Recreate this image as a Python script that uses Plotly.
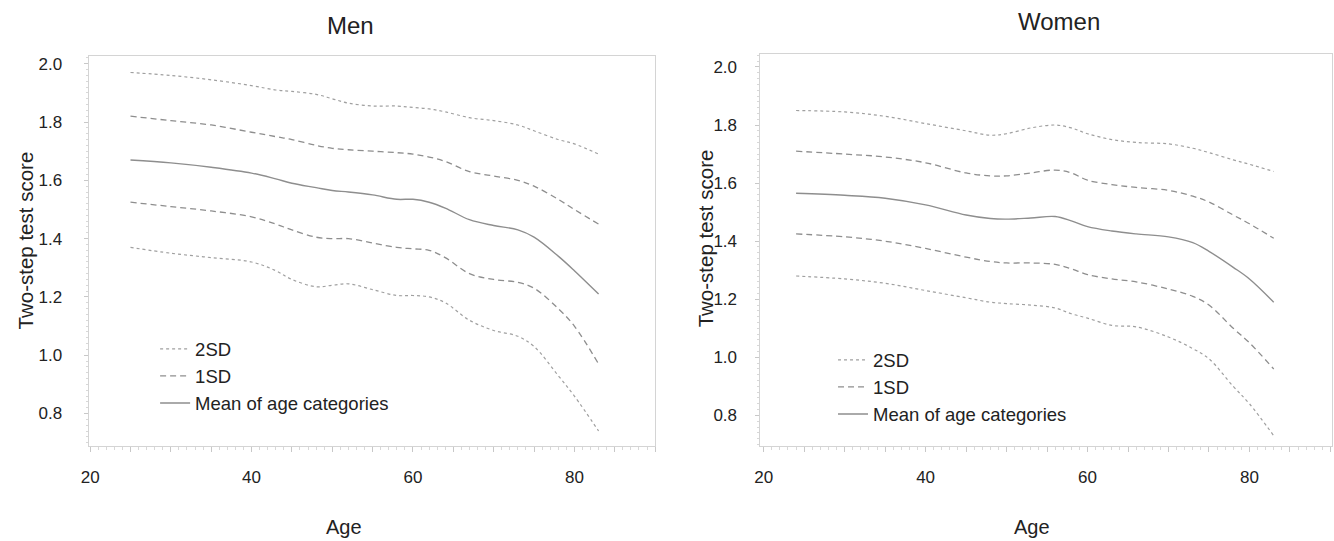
import plotly.graph_objects as go

# ---------------- data ----------------
men_age = [25, 30, 35, 40, 43, 45, 48, 50, 52, 55, 58, 60, 62, 64, 67, 70, 73, 75, 78, 80, 83]
men_mean = [1.67, 1.66, 1.645, 1.625, 1.605, 1.59, 1.575, 1.565, 1.56, 1.55, 1.535, 1.535, 1.525, 1.505,
            1.465, 1.445, 1.43, 1.405, 1.34, 1.29, 1.21]
men_p1 = [1.82, 1.805, 1.79, 1.765, 1.75, 1.74, 1.72, 1.71, 1.705, 1.70, 1.695, 1.69, 1.68, 1.665,
          1.63, 1.615, 1.60, 1.58, 1.535, 1.50, 1.45]
men_p2 = [1.97, 1.96, 1.945, 1.925, 1.91, 1.905, 1.895, 1.88, 1.865, 1.855, 1.855, 1.85, 1.845, 1.835,
          1.815, 1.805, 1.79, 1.77, 1.74, 1.725, 1.69]
men_m1 = [1.525, 1.51, 1.495, 1.475, 1.45, 1.43, 1.405, 1.40, 1.40, 1.385, 1.37, 1.365, 1.36, 1.335,
          1.28, 1.26, 1.25, 1.23, 1.16, 1.10, 0.97]
men_m2 = [1.37, 1.35, 1.335, 1.32, 1.29, 1.26, 1.235, 1.24, 1.245, 1.225, 1.205, 1.205, 1.20, 1.18,
          1.12, 1.085, 1.065, 1.03, 0.93, 0.86, 0.74]

women_age = [24, 30, 35, 40, 45, 48, 50, 53, 56, 58, 60, 63, 66, 70, 73, 75, 78, 80, 83]
women_mean = [1.565, 1.558, 1.548, 1.525, 1.49, 1.478, 1.476, 1.48, 1.485, 1.47, 1.45, 1.435, 1.425,
              1.415, 1.395, 1.365, 1.31, 1.27, 1.19]
women_p1 = [1.71, 1.70, 1.69, 1.67, 1.635, 1.625, 1.625, 1.635, 1.645, 1.635, 1.61, 1.595, 1.585,
            1.575, 1.555, 1.535, 1.49, 1.46, 1.41]
women_p2 = [1.85, 1.845, 1.83, 1.805, 1.78, 1.765, 1.77, 1.79, 1.80, 1.79, 1.77, 1.75, 1.74,
            1.735, 1.72, 1.705, 1.68, 1.665, 1.64]
women_m1 = [1.425, 1.415, 1.40, 1.375, 1.345, 1.33, 1.325, 1.325, 1.32, 1.305, 1.285, 1.27, 1.26,
            1.235, 1.21, 1.18, 1.10, 1.05, 0.96]
women_m2 = [1.28, 1.27, 1.255, 1.23, 1.205, 1.19, 1.185, 1.18, 1.17, 1.15, 1.135, 1.11, 1.105,
            1.07, 1.03, 0.995, 0.90, 0.84, 0.73]

panel_titles = ["Men", "Women"]
legend_names = ["2SD", "1SD", "Mean of age categories"]
x_tickvals = list(range(20, 95, 5))
x_ticktext = [str(v) if v % 20 == 0 and v <= 80 else "" for v in x_tickvals]
y_tickvals = [0.8, 1.0, 1.2, 1.4, 1.6, 1.8, 2.0]
y_ticktext = ["0.8", "1.0", "1.2", "1.4", "1.6", "1.8", "2.0"]

# ---------------- figure ----------------
FONT = "Liberation Sans, Arial, sans-serif"
W, H = 1334, 541
fig = go.Figure()

def band(age, up, lo):
    return age + [None] + age, up + [None] + lo

panels = [
    (men_age, men_mean, men_p1, men_m1, men_p2, men_m2, "x", "y", "legend"),
    (women_age, women_mean, women_p1, women_m1, women_p2, women_m2, "x2", "y2", "legend2"),
]
for age, mean, p1, m1, p2, m2, xa, ya, lg in panels:
    bx, by = band(age, p2, m2)
    fig.add_trace(go.Scatter(x=bx, y=by, mode="lines", name=legend_names[0], xaxis=xa, yaxis=ya,
                             legend=lg, line=dict(color="#a0a0a0", width=1.2, dash="dot", shape="spline")))
    bx, by = band(age, p1, m1)
    fig.add_trace(go.Scatter(x=bx, y=by, mode="lines", name=legend_names[1], xaxis=xa, yaxis=ya,
                             legend=lg, line=dict(color="#8e8e8e", width=1.3, dash="6px,4px", shape="spline")))
    fig.add_trace(go.Scatter(x=age, y=mean, mode="lines", name=legend_names[2], xaxis=xa, yaxis=ya,
                             legend=lg, line=dict(color="#8e8e8e", width=1.4, shape="spline")))

box = "#d4d4d4"
common_x = dict(range=[19.8, 90], tickmode="array", tickvals=x_tickvals, ticktext=x_ticktext,
                ticks="outside", ticklen=5, tickcolor="#c8c8c8", showline=True, linecolor=box,
                mirror=True, showgrid=False, zeroline=False, ticklabelstandoff=10,
                minor=dict(dtick=1, ticks="outside", ticklen=3, tickcolor="#d8d8d8"),
                tickfont=dict(size=17, color="#222", family=FONT))
common_y = dict(tickmode="array", tickvals=y_tickvals, ticktext=y_ticktext,
                ticks="outside", ticklen=4, tickcolor="#c8c8c8", showline=True, linecolor=box,
                mirror=True, showgrid=False, zeroline=False,
                minor=dict(dtick=0.02, ticks="outside", ticklen=2, tickcolor="#d8d8d8"),
                tickfont=dict(size=17, color="#222", family=FONT))

fig.update_layout(
    width=W, height=H, margin=dict(l=0, r=0, t=0, b=0),
    paper_bgcolor="white", plot_bgcolor="white",
    font=dict(family=FONT, color="#222"),
    xaxis=dict(common_x, domain=[81 / W, 651 / W], anchor="y"),
    yaxis=dict(common_y, domain=[1 - 446 / H, 1 - 55 / H], range=[0.688, 2.027], anchor="x",
               ticklabelstandoff=18),
    xaxis2=dict(common_x, domain=[757 / W, 1332 / W], anchor="y2", range=[19.6, 90.2]),
    yaxis2=dict(common_y, domain=[1 - 446 / H, 1 - 53 / H], range=[0.694, 2.045], anchor="x2",
                ticklabelstandoff=15),
    legend=dict(x=148 / W, y=1 - 330 / H, xanchor="left", yanchor="top", bgcolor="rgba(0,0,0,0)",
                font=dict(size=18.5, color="#222", family=FONT), tracegroupgap=0),
    legend2=dict(x=830 / W, y=1 - 341 / H, xanchor="left", yanchor="top", bgcolor="rgba(0,0,0,0)",
                 font=dict(size=18.5, color="#222", family=FONT), tracegroupgap=0),
    showlegend=True,
)

ann = [
    dict(text=panel_titles[0], x=345 / W, y=1 - 25 / H, font=dict(size=24)),
    dict(text=panel_titles[1], x=1057 / W, y=1 - 21 / H, font=dict(size=24)),
    dict(text="Age", x=338 / W, y=1 - 527 / H, font=dict(size=20)),
    dict(text="Age", x=1030 / W, y=1 - 527 / H, font=dict(size=20)),
    dict(text="Two-step test score", x=18 / W, y=1 - 240 / H, textangle=-90, font=dict(size=20.5)),
    dict(text="Two-step test score", x=702 / W, y=1 - 238 / H, textangle=-90, font=dict(size=20.5)),
]
for a in ann:
    fig.add_annotation(xref="paper", yref="paper", showarrow=False, xanchor="center", yanchor="middle",
                       font=dict(a.pop("font"), family=FONT, color="#222"), **a)

fig.write_html("out.html")
